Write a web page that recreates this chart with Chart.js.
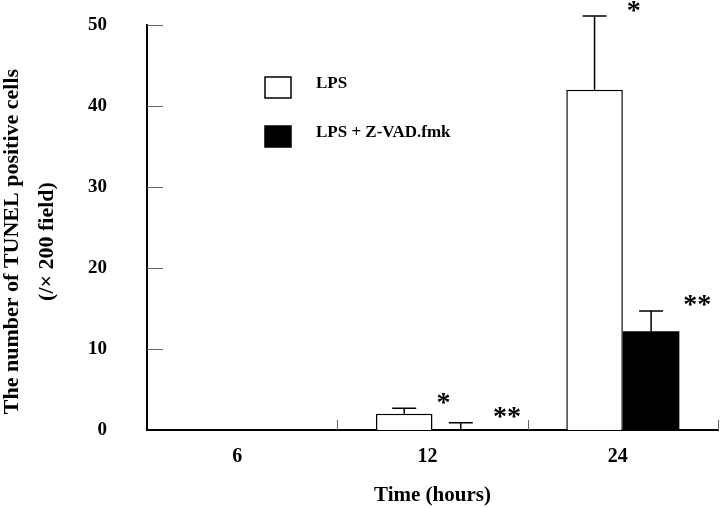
<!DOCTYPE html>
<html>
<head>
<meta charset="utf-8">
<script src="https://cdn.jsdelivr.net/npm/chart.js@4/dist/chart.umd.min.js"></script>
<style>
  html, body { margin: 0; padding: 0; background: #fff; }
  #wrap { width: 720px; height: 508px; }
</style>
</head>
<body>
<div id="wrap"><canvas id="c" width="720" height="508"></canvas></div>
<script>
// ---- data ----
const categories = ['6', '12', '24'];
const seriesNames = ['LPS', 'LPS + Z-VAD.fmk'];
const lpsValues = [0, 2.0, 42.0];
const lpsErrors = [0, 0.7, 9.1];
const zvadValues = [0, 0, 12.2];
const zvadErrors = [0, 0.9, 2.5];
const lpsMarks = ['', '*', '*'];
const zvadMarks = ['', '**', '**'];
const yTickValues = [0, 10, 20, 30, 40, 50];
const yTitleLines = ['The number of TUNEL positive cells', '(/\u00d7 200 field)'];
const xTitle = 'Time (hours)';

const FONT = "'Liberation Serif', 'Times New Roman', serif";
const allErrors = [lpsErrors, zvadErrors];
const allValues = [lpsValues, zvadValues];
const allMarks = [lpsMarks, zvadMarks];

const decorPlugin = {
  id: 'decor',
  afterDatasetsDraw(chart) {
    const ctx = chart.ctx;
    const ys = chart.scales.y;
    ctx.save();
    for (let d = 0; d < 2; d++) {
      const meta = chart.getDatasetMeta(d);
      meta.data.forEach((el, i) => {
        const err = allErrors[d][i];
        const val = allValues[d][i];
        let yTop = el.y;
        if (err > 0) {
          yTop = ys.getPixelForValue(val + err);
          ctx.strokeStyle = '#000';
          ctx.lineWidth = 1.5;
          ctx.beginPath();
          ctx.moveTo(el.x, el.y);
          ctx.lineTo(el.x, yTop);
          ctx.moveTo(el.x - 12, yTop);
          ctx.lineTo(el.x + 12, yTop);
          ctx.stroke();
        }
        const mark = allMarks[d][i];
        if (mark) {
          ctx.font = 'bold 28px ' + FONT;
          ctx.fillStyle = '#000';
          ctx.textAlign = 'left';
          ctx.textBaseline = 'alphabetic';
          const right = el.x + el.width / 2;
          ctx.fillText(mark, right + 4, yTop - 11 + 13.5);
        }
      });
    }
    ctx.restore();
  },
  afterDraw(chart) {
    const ctx = chart.ctx;
    const ys = chart.scales.y;
    const xs = chart.scales.x;
    const ca = chart.chartArea;
    ctx.save();
    // inward tick marks
    ctx.strokeStyle = '#666';
    ctx.lineWidth = 1;
    ctx.beginPath();
    yTickValues.forEach(v => {
      if (v === 0) return;
      const y = Math.round(ys.getPixelForValue(v)) + 0.5;
      ctx.moveTo(ca.left, y);
      ctx.lineTo(ca.left + 16, y);
    });
    for (let i = 1; i <= categories.length; i++) {
      let x;
      if (i < categories.length) {
        x = (xs.getPixelForValue(i - 1) + xs.getPixelForValue(i)) / 2;
      } else {
        x = ca.right;
      }
      x = Math.round(x) + 0.5;
      ctx.moveTo(x, ca.bottom);
      ctx.lineTo(x, ca.bottom - 10);
    }
    ctx.stroke();

    // legend
    const bx = ca.left + 118;
    const by = ca.top + 52;
    chart.data.datasets.forEach((ds, k) => {
      const top = by + k * 49;
      ctx.fillStyle = ds.backgroundColor;
      ctx.fillRect(bx, top, 26, 21);
      ctx.strokeStyle = '#000';
      ctx.lineWidth = 1.5;
      ctx.strokeRect(bx, top, 26, 21);
      ctx.fillStyle = '#000';
      ctx.font = 'bold 17px ' + FONT;
      ctx.textAlign = 'left';
      ctx.textBaseline = 'middle';
      ctx.fillText(ds.label, bx + 51, top + 7);
    });

    // y axis title (two lines, rotated)
    const cy = (ca.top + ca.bottom) / 2 + 14;
    ctx.fillStyle = '#000';
    ctx.font = 'bold 22px ' + FONT;
    ctx.textAlign = 'center';
    ctx.textBaseline = 'middle';
    const lineX = [12, 47];
    yTitleLines.forEach((t, k) => {
      ctx.save();
      ctx.translate(lineX[k], cy);
      ctx.rotate(-Math.PI / 2);
      ctx.fillText(t, 0, 0);
      ctx.restore();
    });
    ctx.restore();
  }
};

new Chart(document.getElementById('c'), {
  type: 'bar',
  data: {
    labels: categories,
    datasets: [
      {
        label: seriesNames[0],
        data: lpsValues,
        backgroundColor: '#ffffff',
        borderColor: '#000000',
        borderWidth: 1.5,
        categoryPercentage: 0.594,
        barPercentage: 1.0
      },
      {
        label: seriesNames[1],
        data: zvadValues,
        backgroundColor: '#000000',
        borderColor: '#000000',
        borderWidth: 0,
        categoryPercentage: 0.594,
        barPercentage: 1.0
      }
    ]
  },
  options: {
    responsive: false,
    animation: false,
    devicePixelRatio: 1,
    layout: { padding: { top: 25, right: 2, bottom: 0, left: 0 } },
    plugins: {
      legend: { display: false },
      tooltip: { enabled: false }
    },
    scales: {
      x: {
        grid: { display: false, drawTicks: false },
        border: { display: true, color: '#000', width: 2 },
        ticks: {
          color: '#000',
          font: { family: FONT, size: 20, weight: 'bold' },
          padding: 15,
          labelOffset: -5
        },
        title: {
          display: true,
          text: xTitle,
          color: '#000',
          font: { family: FONT, size: 21, weight: 'bold' },
          padding: 0
        },
        afterFit(s) { s.height = 78; s.paddingLeft = 0; s.paddingRight = 0; }
      },
      y: {
        min: 0,
        max: 50,
        grid: { display: false, drawTicks: false },
        border: { display: true, color: '#000', width: 2 },
        ticks: {
          stepSize: 10,
          color: '#000',
          font: { family: FONT, size: 19, weight: 'bold' },
          padding: 40
        },
        afterFit(s) { s.width = 147; s.paddingTop = 0; s.paddingBottom = 0; }
      }
    }
  },
  plugins: [decorPlugin]
});
</script>
</body>
</html>
